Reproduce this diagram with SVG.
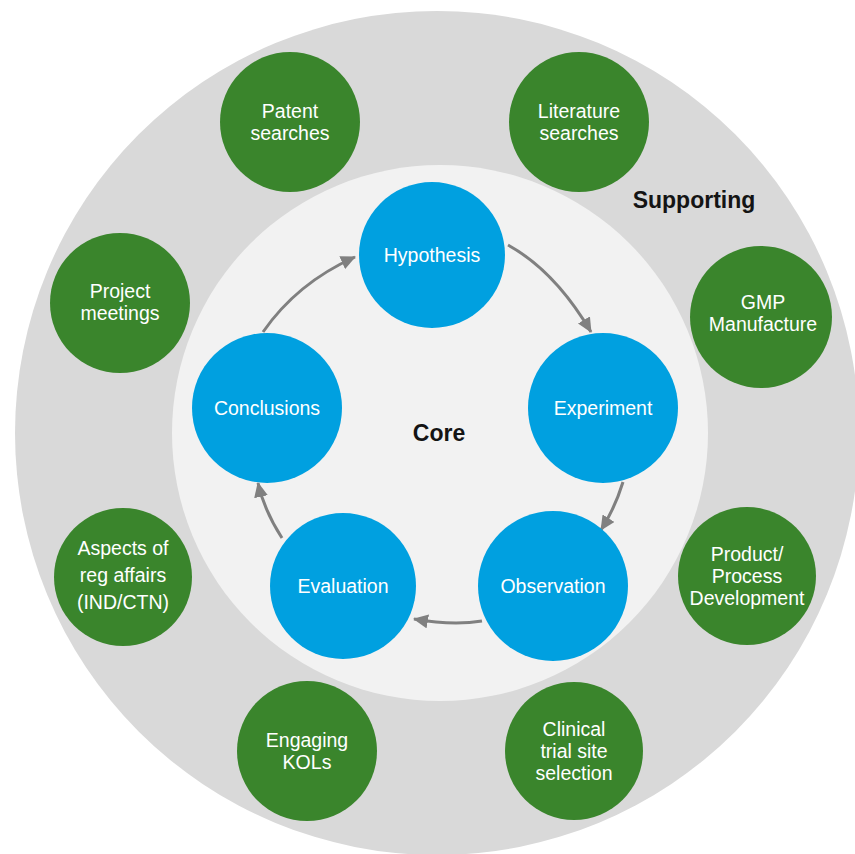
<svg xmlns="http://www.w3.org/2000/svg" width="855" height="854" viewBox="0 0 855 854">
<style>
.blue{fill:#00a0e0}
.green{fill:#3a852c}
.bt{font-family:"Liberation Sans",Arial,sans-serif;font-size:19.5px;fill:#fff;text-anchor:middle}
.gt{font-family:"Liberation Sans",Arial,sans-serif;font-size:19.5px;fill:#fff;text-anchor:middle}
.lbl{font-family:"Liberation Sans",Arial,sans-serif;font-size:23px;font-weight:bold;fill:#141414;text-anchor:middle}
.arr{fill:none;stroke:#808080;stroke-width:3;marker-end:url(#ah)}
</style>
<defs>
<marker id="ah" markerUnits="userSpaceOnUse" markerWidth="16" markerHeight="14" refX="14" refY="7" orient="auto">
<path d="M0,0 L15,7 L0,14 Z" fill="#808080"/>
</marker>
</defs>
<rect width="855" height="854" fill="#fff"/>
<g id="outer"><circle cx="437" cy="433" r="422" fill="#d9d9d9"/></g>
<g id="inner"><circle cx="440" cy="433" r="268" fill="#f2f2f2"/></g>
<text class="lbl" x="439" y="441">Core</text>
<text class="lbl" x="694" y="208">Supporting</text>

<g id="connectors">
<path class="arr" d="M508,245 Q555,271 591,332"/>
<path class="arr" d="M623,482 Q615,508 601,530"/>
<path class="arr" d="M482,621 Q453,626 414,619"/>
<path class="arr" d="M282,538 Q264,510 258,483"/>
<path class="arr" d="M263,332 Q297,283 355,257"/>
</g>

<g id="hypothesis"><circle class="blue" cx="432" cy="255" r="73"/><text class="bt" x="432" y="262">Hypothesis</text></g>
<g id="experiment"><circle class="blue" cx="603" cy="408" r="75"/><text class="bt" x="603" y="415">Experiment</text></g>
<g id="observation"><circle class="blue" cx="553" cy="586" r="75"/><text class="bt" x="553" y="593">Observation</text></g>
<g id="evaluation"><circle class="blue" cx="343" cy="586" r="73"/><text class="bt" x="343" y="593">Evaluation</text></g>
<g id="conclusions"><circle class="blue" cx="267" cy="408" r="75"/><text class="bt" x="267" y="415">Conclusions</text></g>

<g id="patent"><circle class="green" cx="290" cy="122" r="70"/><text class="gt" x="290" y="118">Patent</text><text class="gt" x="290" y="140">searches</text></g>
<g id="literature"><circle class="green" cx="579" cy="122" r="70"/><text class="gt" x="579" y="118">Literature</text><text class="gt" x="579" y="140">searches</text></g>
<g id="project"><circle class="green" cx="120" cy="303" r="70"/><text class="gt" x="120" y="298">Project</text><text class="gt" x="120" y="320">meetings</text></g>
<g id="gmp"><circle class="green" cx="761" cy="317" r="71"/><text class="gt" x="763" y="309">GMP</text><text class="gt" x="763" y="331">Manufacture</text></g>
<g id="aspects"><circle class="green" cx="123" cy="577" r="69"/><text class="gt" x="123" y="555">Aspects of</text><text class="gt" x="123" y="582">reg affairs</text><text class="gt" x="123" y="609">(IND/CTN)</text></g>
<g id="product"><circle class="green" cx="747" cy="576" r="69"/><text class="gt" x="747" y="561">Product/</text><text class="gt" x="747" y="583">Process</text><text class="gt" x="747" y="605">Development</text></g>
<g id="kols"><circle class="green" cx="307" cy="751" r="70"/><text class="gt" x="307" y="747">Engaging</text><text class="gt" x="307" y="769">KOLs</text></g>
<g id="clinical"><circle class="green" cx="574" cy="751" r="69"/><text class="gt" x="574" y="736">Clinical</text><text class="gt" x="574" y="758">trial site</text><text class="gt" x="574" y="780">selection</text></g>
</svg>
